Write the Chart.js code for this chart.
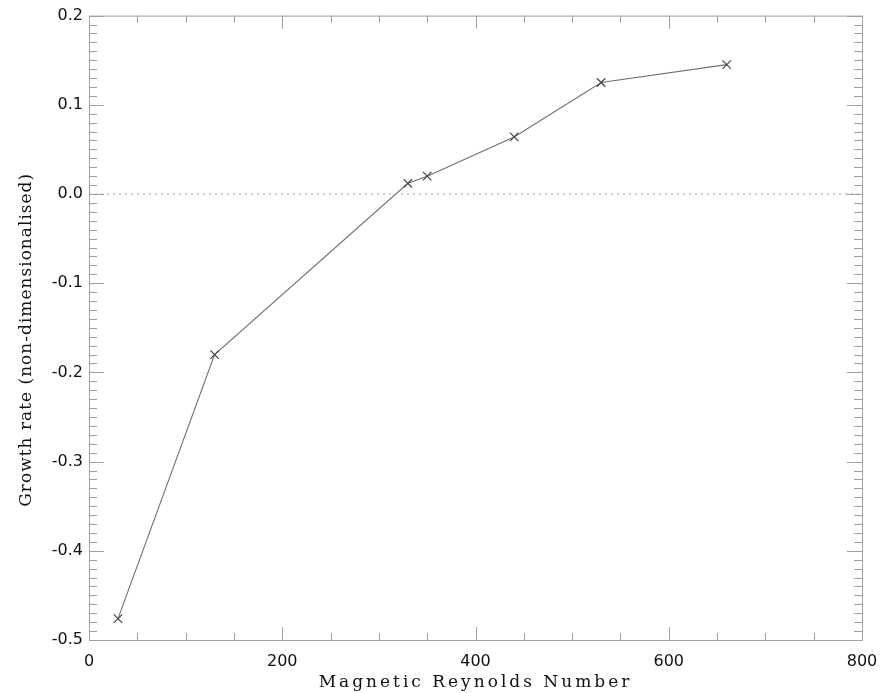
<!DOCTYPE html>
<html>
<head>
<meta charset="utf-8">
<script src="https://cdn.jsdelivr.net/npm/chart.js@4"></script>
<style>
  html, body { margin: 0; padding: 0; background: #fff; }
  #chart { display: block; }
</style>
</head>
<body>
<canvas id="chart" width="890" height="693"></canvas>
<script>
// === Data ===
const reynolds = [30, 130, 330, 350, 440, 530, 660];
const growthRate = [-0.476, -0.180, 0.012, 0.020, 0.064, 0.125, 0.145];
const zeroLineX = [0, 800];
const zeroLineY = [0, 0];
const xTicks = [0, 200, 400, 600, 800];
const yTicks = [-0.5, -0.4, -0.3, -0.2, -0.1, 0.0, 0.1, 0.2];
const xTitle = 'Magnetic Reynolds Number';
const yTitle = 'Growth rate (non-dimensionalised)';

const AXIS_COLOR = '#a0a0a0';
const TITLE_FONT = '17px "DejaVu Serif"';

// IDL-style box with inward major/minor ticks on all four sides, plus spaced titles
const boxTicks = {
    id: 'boxTicks',
    afterDraw(chart) {
        const { ctx, chartArea: a, scales } = chart;
        const xs = scales.x, ys = scales.y;
        ctx.save();
        ctx.strokeStyle = AXIS_COLOR;
        ctx.lineWidth = 1;
        ctx.beginPath();
        ctx.rect(a.left + 0.5, a.top + 0.5, a.right - a.left, a.bottom - a.top);
        ctx.stroke();

        ctx.beginPath();
        for (let v = 0; v <= 800; v += 50) {
            const px = Math.round(xs.getPixelForValue(v)) + 0.5;
            const len = v % 200 === 0 ? 13 : 7;
            ctx.moveTo(px, a.bottom); ctx.lineTo(px, a.bottom - len);
            ctx.moveTo(px, a.top); ctx.lineTo(px, a.top + len);
        }
        for (let i = -50; i <= 20; i++) {
            const py = Math.round(ys.getPixelForValue(i / 100)) + 0.5;
            const len = i % 10 === 0 ? 15 : 8;
            ctx.moveTo(a.left, py); ctx.lineTo(a.left + len, py);
            ctx.moveTo(a.right, py); ctx.lineTo(a.right - len, py);
        }
        ctx.stroke();

        // axis titles
        ctx.fillStyle = '#111';
        ctx.font = TITLE_FONT;
        ctx.textAlign = 'center';
        ctx.textBaseline = 'middle';
        ctx.letterSpacing = '3px';
        ctx.fillText(xTitle, (a.left + a.right) / 2, 683);
        ctx.letterSpacing = '1px';
        ctx.translate(27, (a.top + a.bottom) / 2 + 12);
        ctx.rotate(-Math.PI / 2);
        ctx.fillText(yTitle, 0, 0);
        ctx.restore();
    }
};

const ctx = document.getElementById('chart').getContext('2d');
new Chart(ctx, {
    type: 'scatter',
    data: {
        datasets: [
            {
                data: zeroLineX.map((x, i) => ({ x, y: zeroLineY[i] })),
                showLine: true,
                borderColor: '#9a9a9a',
                borderWidth: 1,
                borderDash: [2, 4],
                pointRadius: 0
            },
            {
                data: reynolds.map((x, i) => ({ x, y: growthRate[i] })),
                showLine: true,
                borderColor: '#707070',
                borderWidth: 1.1,
                pointStyle: 'crossRot',
                pointRadius: 6,
                pointBorderColor: '#444',
                pointBorderWidth: 1.2
            }
        ]
    },
    options: {
        responsive: false,
        devicePixelRatio: 1,
        animation: false,
        layout: { padding: { top: 10, right: 28, left: 0, bottom: 0 } },
        plugins: {
            legend: { display: false },
            tooltip: { enabled: false }
        },
        scales: {
            x: {
                type: 'linear',
                min: 0,
                max: 800,
                afterBuildTicks: s => { s.ticks = xTicks.map(v => ({ value: v })); },
                afterFit: s => { s.height = 53; },
                grid: { display: false, drawTicks: false },
                border: { display: false },
                ticks: {
                    color: '#111',
                    padding: 12,
                    maxRotation: 0,
                    font: { family: 'DejaVu Sans', size: 16 }
                }
            },
            y: {
                type: 'linear',
                min: -0.5,
                max: 0.2,
                afterBuildTicks: s => { s.ticks = yTicks.map(v => ({ value: v })); },
                afterFit: s => { s.width = 89; },
                grid: { display: false, drawTicks: false },
                border: { display: false },
                ticks: {
                    color: '#111',
                    padding: 6,
                    font: { family: 'DejaVu Sans', size: 16 },
                    callback: v => v.toFixed(1)
                }
            }
        }
    },
    plugins: [boxTicks]
});
</script>
</body>
</html>
